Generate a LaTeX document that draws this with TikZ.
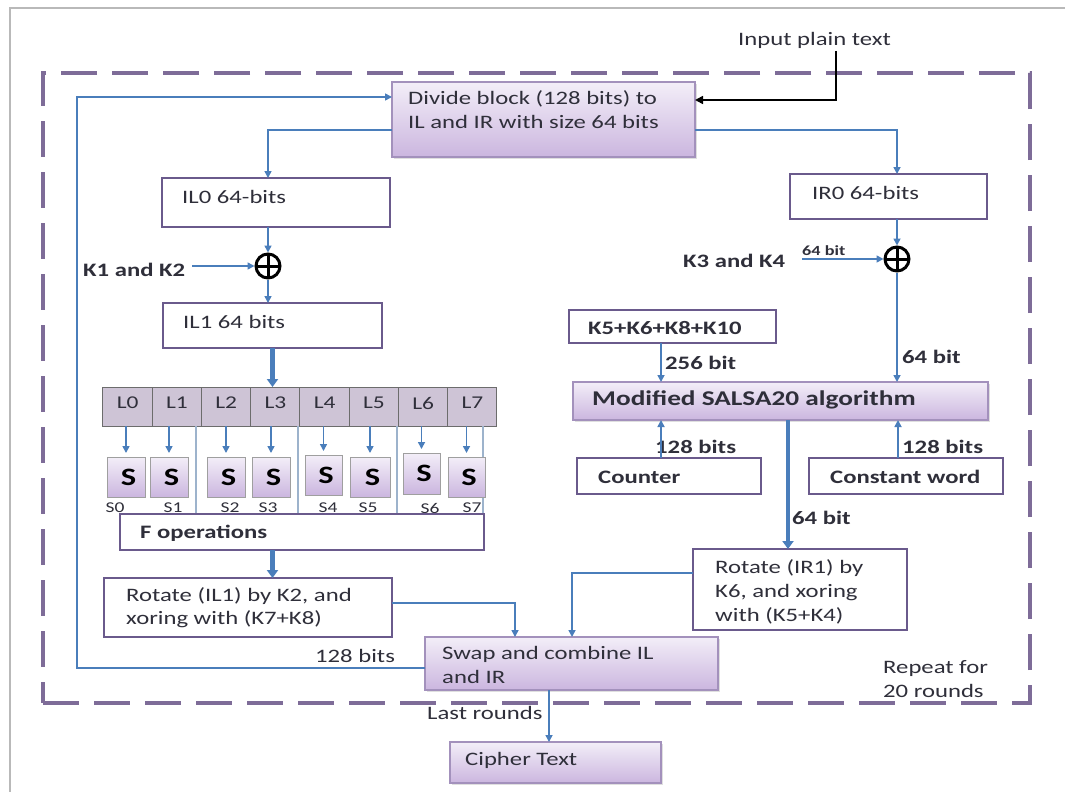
\documentclass[tikz,border=0pt]{standalone}
\usepackage{fontspec}
\setmainfont{Carlito}[FakeStretch=1.3]
\usetikzlibrary{arrows.meta,calc,shadows}
\definecolor{arrblue}{HTML}{4A7EBB}
\definecolor{boxline}{HTML}{6A5A8C}
\definecolor{dashc}{HTML}{7E6C98}
\definecolor{ptop}{HTML}{F3EEF8}
\definecolor{pbot}{HTML}{CBB6DF}
\definecolor{pborder}{HTML}{A391BC}
\definecolor{txt}{HTML}{2F2F3A}
\definecolor{lcell}{HTML}{CEC4D6}
\definecolor{thinl}{HTML}{9DB3CC}
\newcommand\mkbox[6]{\node[#6, minimum width={#4pt-#2pt}, minimum height={#5pt-#3pt}] (#1) at ({(#2+#4)/2},{(#3+#5)/2}) {};}
\newcommand\fsz[2]{\fontsize{#1}{#2}\selectfont}
\begin{document}
\begin{tikzpicture}[x=1pt,y=-1pt,
  wbox/.style={draw=boxline, line width=2.5pt, fill=white, inner sep=0pt, outer sep=0pt},
  pbox/.style={draw=pborder, line width=1.2pt, top color=ptop, bottom color=pbot, inner sep=0pt, outer sep=0pt, drop shadow={shadow xshift=2pt, shadow yshift=-2pt, opacity=0.25}},
  sbox/.style={draw=gray!75, line width=1pt, top color=ptop, bottom color=pbot, inner sep=0pt, outer sep=0pt, font=\fsz{25}{30}\bfseries, text=black},
  lcellsty/.style={draw=gray!85!black, line width=1pt, fill=lcell, inner sep=0pt, outer sep=0pt, font=\fsz{18}{22}, text=txt},
  dframe/.style={draw=dashc, line width=4pt, dash pattern=on 36pt off 15pt, inner sep=0pt},
  arr/.style={draw=arrblue, line width=1.6pt, -{Triangle[length=7pt,width=7pt]}},
  tarr/.style={draw=arrblue, line width=4.5pt, -{Triangle[length=8pt,width=11pt]}},
  blk/.style={draw=black, line width=1.6pt, -{Triangle[length=8pt,width=8pt]}},
  thinline/.style={draw=thinl, line width=1.2pt},
  tx/.style={inner sep=0pt, anchor=west, text=txt, font=\fsz{19}{24}, align=left},
  bt/.style={tx, font=\fsz{19}{24}\bfseries},
  xorsty/.style={circle, draw=black, line width=3pt, minimum size=24pt, inner sep=0pt,
    path picture={\draw[line width=3pt] (path picture bounding box.north) -- (path picture bounding box.south) (path picture bounding box.west) -- (path picture bounding box.east);}}
]
\fill[white] (0,0) rectangle (1065,792);
\useasboundingbox (0,0) rectangle (1065,792);
\draw[gray!55, line width=2pt] (10,792) -- (10,8) -- (1065,8);

% dashed round frame
\mkbox{frame}{43}{73}{1030}{703}{dframe}

% boxes
\mkbox{divide}{392}{82}{695}{157}{pbox}
\mkbox{il0}{162}{178}{390}{227}{wbox}
\mkbox{il1}{163}{303}{382}{348}{wbox}
\mkbox{fop}{120}{514}{484}{550}{wbox}
\mkbox{rotl}{104}{578}{392}{637}{wbox}
\mkbox{swap}{425}{637}{718}{690}{pbox}
\mkbox{cipher}{450}{742}{661}{783}{pbox}
\mkbox{ir0}{790}{174}{987}{219}{wbox}
\mkbox{k5}{569}{310}{776}{343}{wbox}
\mkbox{salsa}{573}{382}{988}{420}{pbox}
\mkbox{counter}{577}{458}{761}{494}{wbox}
\mkbox{const}{809}{458}{1003}{494}{wbox}
\mkbox{rotr}{693}{549}{907}{630}{wbox}

% L cells
\foreach \i in {0,...,7}{
  \node[lcellsty, minimum width=49.25pt, minimum height=39pt, text depth=7pt] (l\i) at ({103+49.25*\i+24.6},406.5) {L\i};
}
% thin lines from L row to F box
\foreach \xx in {196,298,397,483}{
  \draw[thinline] (l0.south -| \xx,0) -- (fop.north -| \xx,0);
}
% S boxes
\foreach \n/\xa/\ya/\xb/\yb in {0/107/457/145/497, 1/150/457/188/497, 2/207/457/245/497, 3/252/457/290/497, 4/305/455/342/495, 5/350/457/390/497, 6/403/453/440/494, 7/448/457/485/497}{
  \pgfmathsetmacro\ww{\xb-\xa}
  \pgfmathsetmacro\hh{\yb-\ya}
  \node[sbox, minimum width=\ww pt, minimum height=\hh pt] (s\n) at ({(\xa+\xb)/2},{(\ya+\yb)/2}) {\hspace*{5pt}S};
  \draw[arr, shorten >=4pt] (s\n.north |- l\n.south) -- (s\n.north);
}
% S labels
\foreach \n/\xx in {0/115,1/173,2/230,3/268,4/328,5/368,6/430,7/472}{
  \node[inner sep=0pt, font=\fsz{15}{18}, text=txt] (sl\n) at (\xx,508) {S\n};
}
% redraw F box over labels
\mkbox{fop2}{120}{514}{484}{550}{wbox}

% texts
\node[tx] (inp) at (738,40) {Input plain text};
\node[tx] (tdiv) at (408,110) {Divide block (128 bits) to\\IL and IR with size 64 bits};
\node[tx] (til0) at (182,197) {IL0 64-bits};
\node[tx] (til1) at (183,322) {IL1 64 bits};
\node[bt] (k1) at (83,270) {K1 and K2};
\node[bt] (tfop) at (140,533) {F operations};
\node[tx, font=\fsz{19}{23}] (trotl) at (126,608) {Rotate (IL1) by K2, and\\xoring with (K7+K8)};
\node[tx] (b128) at (315,656) {128 bits};
\node[tx] (tswap) at (442,665) {Swap and combine IL\\and IR};
\node[tx] (tlast) at (427,713) {Last rounds};
\node[tx] (tcip) at (465,760) {Cipher Text};
\node[tx] (tir0) at (812,193) {IR0 64-bits};
\node[bt] (k3) at (683,261) {K3 and K4};
\node[bt, font=\fsz{14}{17}\bfseries] (b64a) at (802,251) {64 bit};
\node[bt] (b64b) at (902,357) {64 bit};
\node[bt] (tk5) at (588,328) {K5+K6+K8+K10};
\node[bt] (b256) at (665,363) {256 bit};
\node[bt, font=\fsz{21}{25}\bfseries] (tsalsa) at (592,400) {Modified SALSA20 algorithm};
\node[bt] (b128c) at (655,447) {128 bits};
\node[bt] (tcount) at (598,477) {Counter};
\node[bt] (b128d) at (902,447) {128 bits};
\node[bt] (tconst) at (830,477) {Constant word};
\node[bt] (b64c) at (792,518) {64 bit};
\node[tx] (trotr) at (715,592) {Rotate (IR1) by\\K6, and xoring\\with (K5+K4)};
\node[tx] (trep) at (883,679) {Repeat for\\20 rounds};

% xor nodes
\node[xorsty] (xor1) at (268,266) {};
\node[xorsty] (xor2) at (897,259) {};

% connectors
\coordinate (loopx) at (77,400);
\coordinate (inpa) at (836,51);
\draw[arr] ([yshift=-4.5pt]swap.west) -| (loopx) |- ([yshift=22.5pt]divide.west);
\draw[blk] (inpa) |- ([yshift=19.5pt]divide.east);
\draw[arr] ([yshift=-10.5pt]divide.west) -| ([xshift=-8pt]il0.north);
\draw[arr] ([yshift=-10.5pt]divide.east) -| ([xshift=8.5pt]ir0.north);
\draw[arr] (il0.south -| xor1) -- (xor1.north);
\draw[arr, shorten <=7pt] (xor1.west -| k1.east) -- (xor1.west);
\draw[arr] (xor1.south) -- (xor1.south |- il1.north);
\draw[tarr] (il1.south) -- (il1.south |- l3.north);
\draw[tarr] (fop2.south -| il1.south) -- (rotl.north -| il1.south);
\draw[arr] ([yshift=4.5pt]rotl.east) -| ([xshift=-56.5pt]swap.north);
\draw[arr] ([yshift=16.5pt]rotr.west) -| ([xshift=0.5pt]swap.north);
\draw[arr] ([xshift=-22.5pt]swap.south) -- ([xshift=-22.5pt]swap.south |- cipher.north);
\draw[arr] (ir0.south -| xor2) -- (xor2.north);
\draw[arr, shorten <=17pt] (xor2.west -| k3.east) -- (xor2.west);
\draw[arr] (xor2.south) -- (xor2.south |- salsa.north);
\draw[arr] ([xshift=-11.5pt]k5.south) -- ([xshift=-11.5pt]k5.south |- salsa.north);
\draw[arr] ([xshift=-8pt]counter.north) -- ([xshift=-8pt]counter.north |- salsa.south);
\draw[arr] ([xshift=-8pt]const.north) -- ([xshift=-8pt]const.north |- salsa.south);
\draw[tarr] ([xshift=7.5pt]salsa.south) -- ([xshift=7.5pt]salsa.south |- rotr.north);
\end{tikzpicture}
\end{document}
